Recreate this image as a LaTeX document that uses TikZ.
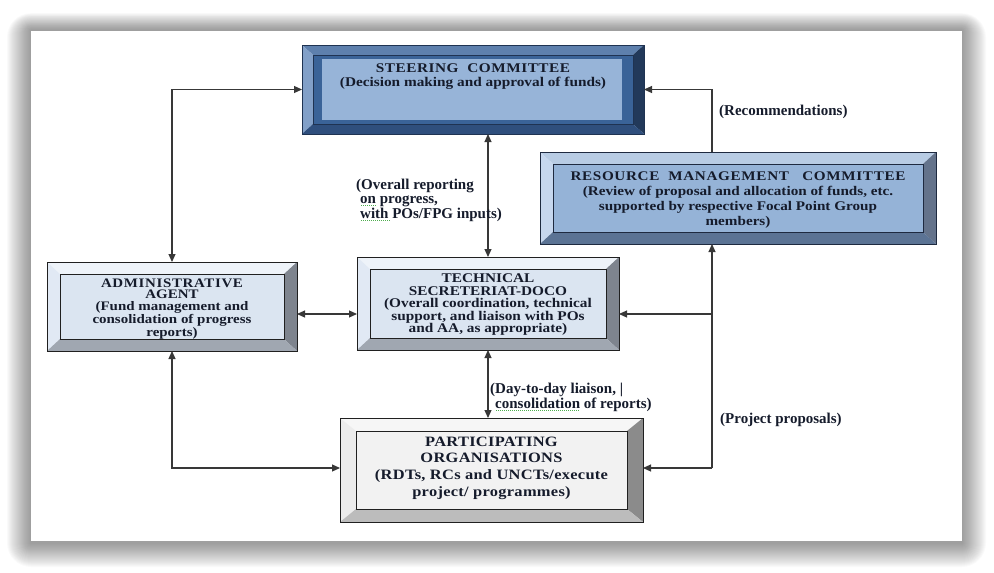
\documentclass[tikz,border=0pt]{standalone}
\usepackage{fontspec}
\setmainfont{Liberation Serif}
\newfontfamily\boxfont{Liberation Serif}[FakeStretch=1.15]
\usetikzlibrary{arrows.meta,calc}

\definecolor{txt}{HTML}{151B2B}
\definecolor{lc}{HTML}{383838}
% steering
\definecolor{stT}{HTML}{5E80AD}
\definecolor{stL}{HTML}{82A0C8}
\definecolor{stR}{HTML}{22395A}
\definecolor{stB}{HTML}{2F4F7D}
\definecolor{stF}{HTML}{3A6398}
\definecolor{stI}{HTML}{97B4D8}
\definecolor{stD}{HTML}{1F3352}
% resource
\definecolor{rmT}{HTML}{B8CCE4}
\definecolor{rmL}{HTML}{C6D7EE}
\definecolor{rmR}{HTML}{64738B}
\definecolor{rmB}{HTML}{5B7394}
\definecolor{rmF}{HTML}{95B3D7}
\definecolor{rmD}{HTML}{1E2A40}
% admin / tech
\definecolor{adT}{HTML}{EEF3F9}
\definecolor{adL}{HTML}{E1E9F4}
\definecolor{adR}{HTML}{7E848E}
\definecolor{adB}{HTML}{A0A7B1}
\definecolor{adF}{HTML}{DBE5F1}
\definecolor{adD}{HTML}{202020}
% participating
\definecolor{poT}{HTML}{F6F6F6}
\definecolor{poL}{HTML}{ECECEC}
\definecolor{poR}{HTML}{8B8B8B}
\definecolor{poB}{HTML}{BCBCBC}
\definecolor{poF}{HTML}{F2F2F2}
\definecolor{poD}{HTML}{202020}
\definecolor{squig}{HTML}{4FAE4F}

\newcommand\bevelbox[7]{%
 \node[minimum width=#3, minimum height=#4, inner sep=0pt, outer sep=0pt] (#1) at (#2) {};
 \coordinate (#1-a) at ($(#1.north west)+(#5,#6)$);
 \coordinate (#1-b) at ($(#1.north east)+(-#5,#6)$);
 \coordinate (#1-c) at ($(#1.south east)+(-#5,-#6)$);
 \coordinate (#1-d) at ($(#1.south west)+(#5,-#6)$);
 \fill[#7T] (#1.north west) -- (#1.north east) -- (#1-b) -- (#1-a) -- cycle;
 \fill[#7L] (#1.north west) -- (#1-a) -- (#1-d) -- (#1.south west) -- cycle;
 \fill[#7R] (#1.north east) -- (#1.south east) -- (#1-c) -- (#1-b) -- cycle;
 \fill[#7B] (#1.south west) -- (#1-d) -- (#1-c) -- (#1.south east) -- cycle;
 \filldraw[fill=#7F, draw=#7D, line width=0.8pt] (#1-a) rectangle (#1-c);
 \draw[#7D, line width=1pt] (#1.north west) rectangle (#1.south east);
}

\tikzset{
 boxtext/.style={text=txt, align=center, inner sep=0pt},
 lbl/.style={text=txt, align=left, inner sep=0pt, anchor=base west,
   font=\bfseries\fontsize{15}{14.5}\selectfont},
 conn/.style={draw=lc, line width=1.1pt},
 tip/.style={-{Triangle[length=8pt,width=7pt]}},
 tips/.style={{Triangle[length=8pt,width=7pt]}-{Triangle[length=8pt,width=7pt]}},
 sq/.style={draw=squig, line width=0.8pt, dash pattern=on 1pt off 1pt}
}

\begin{document}
\begin{tikzpicture}[x=1pt,y=-1pt]
\useasboundingbox (0,0) rectangle (994,573);
% page shadow
\foreach \i in {1,...,24}{
  \fill[black, opacity=0.02, rounded corners=\i pt] (31-\i,30-0.7*\i) rectangle (962+\i,543+\i);
}
\fill[white] (31,31) rectangle (962,541);

% boxes
\bevelbox{st}{473,89.5}{342}{89}{11}{10}{st}
\fill[stI] ($(st.north west)+(20,14)$) rectangle ($(st.south east)+(-22,-14)$);
\bevelbox{rm}{738,198}{396}{92}{13}{12}{rm}
\bevelbox{ad}{172,306.5}{250}{89}{13}{12}{ad}
\bevelbox{te}{488,303.5}{262}{93}{13}{12}{ad}
\bevelbox{po}{491.5,470}{303}{104}{16}{13}{po}

% box texts
\node[boxtext, font=\boxfont\bfseries\fontsize{13.3}{14}\selectfont] (stt) at (473,77)
 {{\addfontfeature{LetterSpace=4}STEERING\ \ COMMITTEE}\\(Decision making and approval of funds)};
\node[boxtext, font=\boxfont\bfseries\fontsize{13.2}{14.7}\selectfont] (rmt) at (738,200)
 {{\addfontfeature{LetterSpace=5}RESOURCE\ \ MANAGEMENT\ \ \ COMMITTEE}\\(Review of proposal and allocation of funds, etc.\\supported by respective Focal Point Group\\members)};
\node[boxtext, font=\boxfont\bfseries\fontsize{13}{11.8}\selectfont] (adt) at (172,309)
 {{\addfontfeature{LetterSpace=5}ADMINISTRATIVE}\\AGENT\\(Fund management and\\consolidation of progress\\reports)};
\node[boxtext, font=\boxfont\bfseries\fontsize{13.3}{12.5}\selectfont] (tet) at (488,305)
 {TECHNICAL\\SECRETERIAT-DOCO\\(Overall coordination, technical\\support, and liaison with POs\\and AA, as appropriate)};
\node[boxtext, font=\boxfont\bfseries\fontsize{14.3}{16.7}\selectfont\addfontfeature{LetterSpace=2}] (pot) at (491.5,468)
 {PARTICIPATING\\ORGANISATIONS\\(RDTs, RCs and UNCTs/execute\\project/ programmes)};

% helper coordinates
\coordinate (vx) at (712,0);
\coordinate (h1) at (0,314);
\coordinate (h3) at (0,468);
\coordinate (pj) at (712,468);

% connectors
\draw[conn,tips] (ad.north) |- (st.west);
\draw[conn,tips] (te.north) -- (te.north |- st.south);
\draw[conn,tip] (rm.north -| vx) |- (st.east);
\draw[conn,tips] (ad.east |- h1) -- (te.west |- h1);
\draw[conn,tip] (pj) -- (rm.south -| vx);
\draw[conn,tip] (vx |- h1) -- (te.east |- h1);
\draw[conn,tip] (pj) -- (po.east |- h3);
\draw[conn,tips] (te.south) -- (te.south |- po.north);
\draw[conn,tips] (ad.south) |- (po.west |- h3);

% labels (base anchor = baseline of last line)
\node[lbl] (l1) at (356,218) {(Overall reporting\\\hspace{4pt}on progress,\\\hspace{4pt}with POs/FPG inputs)};
\node[lbl] (l2) at (719,115) {(Recommendations)};
\node[lbl] (l3) at (490,408) {(Day-to-day liaison, |\\\hspace{5pt}consolidation of reports)};
\node[lbl] (l4) at (720,423) {(Project proposals)};

% spell-check marks
\draw[sq] (361,205) -- (376,205);
\draw[sq] (361,220) -- (390,220);
\draw[sq] (496,410) -- (580,410);
\end{tikzpicture}
\end{document}
